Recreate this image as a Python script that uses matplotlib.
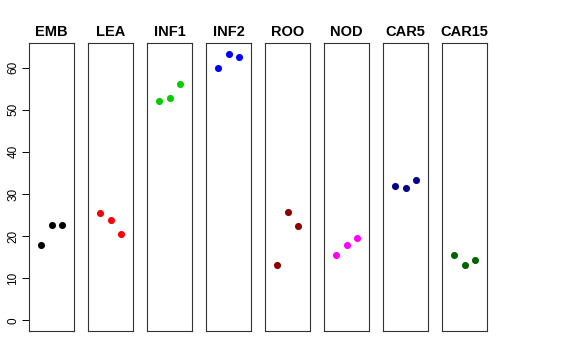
import matplotlib
matplotlib.use("Agg")

import matplotlib.pyplot as plt

# panel names and point values
groups = ["EMB", "LEA", "INF1", "INF2", "ROO", "NOD", "CAR5", "CAR15"]
emb = [18.0, 22.6, 22.6]
lea = [25.4, 23.9, 20.5]
inf1 = [52.1, 52.7, 56.1]
inf2 = [59.9, 63.3, 62.4]
roo = [13.1, 25.7, 22.3]
nod = [15.4, 17.9, 19.5]
car5 = [32.0, 31.3, 33.3]
car15 = [15.6, 13.2, 14.4]
series = [emb, lea, inf1, inf2, roo, nod, car5, car15]
colors = ["black", "#FF0000", "#00CD00", "#0000FF", "#8B0000", "#FF00FF", "#00008B", "#006400"]
reps = [1, 2, 3]
yticks = [0, 10, 20, 30, 40, 50, 60]

plt.rcParams["font.family"] = ["Liberation Sans", "DejaVu Sans"]

W, H = 576, 360
fig = plt.figure(figsize=(W / 100, H / 100), dpi=100)

ymax = max(max(s) for s in series)
pad = 0.04 * ymax

for i, (name, vals, c) in enumerate(zip(groups, series, colors)):
    left = 29 + i * 59
    ax = fig.add_axes([left / W, 29 / H, 45 / W, 288 / H])
    ax.scatter(reps, vals, s=26, color=c, zorder=3, linewidths=0)
    ax.set_xlim(-0.16, 4.16)
    ax.set_ylim(-pad, ymax + pad)
    ax.set_xticks([])
    for sp in ax.spines.values():
        sp.set_linewidth(0.8)
        sp.set_color("#333333")
    ax.set_title(name, fontsize=10.5, fontweight="bold", pad=5)
    if i == 0:
        ax.set_yticks(yticks)
        ax.set_yticklabels([str(t) for t in yticks], rotation=90, va="center", fontsize=8.5)
        ax.tick_params(axis="y", direction="out", length=5, width=0.7, pad=2)
    else:
        ax.set_yticks([])

fig.savefig("out.png", dpi=100)
plt.close(fig)
